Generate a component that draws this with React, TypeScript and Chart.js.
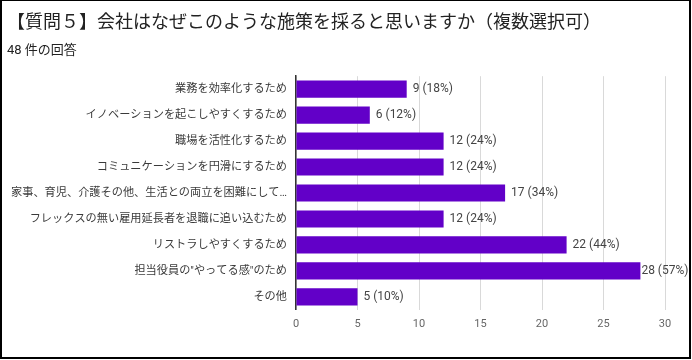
import React, { useEffect, useRef } from "react";
import { Chart, registerables } from "chart.js";

Chart.register(...registerables);

const categories = [
  "業務を効率化するため",
  "イノベーションを起こしやすくするため",
  "職場を活性化するため",
  "コミュニケーションを円滑にするため",
  "家事、育児、介護その他、生活との両立を困難にして…",
  "フレックスの無い雇用延長者を退職に追い込むため",
  "リストラしやすくするため",
  "担当役員の\"やってる感\"のため",
  "その他",
];
const counts = [9, 6, 12, 12, 17, 12, 22, 28, 5];
const percentLabels = ["18%", "12%", "24%", "24%", "34%", "24%", "44%", "57%", "10%"];
const xTicks = [0, 5, 10, 15, 20, 25, 30];
const titleText = "【質問５】会社はなぜこのような施策を採ると思いますか（複数選択可）";
const subtitleText = "48 件の回答";

const FONT = "Roboto, 'Noto Sans CJK JP', sans-serif";

const labelPlugin = {
  id: "barLabels",
  afterDatasetsDraw(chart: any) {
    const ctx = chart.ctx;
    const meta = chart.getDatasetMeta(0);
    ctx.save();
    ctx.font = `12px ${FONT}`;
    ctx.fillStyle = "#444";
    ctx.textBaseline = "middle";
    ctx.textAlign = "left";
    meta.data.forEach((bar: any, i: number) => {
      const text = `${counts[i]} (${percentLabels[i]})`;
      const w = ctx.measureText(text).width;
      let x = bar.x + 6;
      const limit = chart.width - 4 - w;
      if (x > limit) x = Math.max(bar.x + 1, limit);
      ctx.fillText(text, x, bar.y);
    });
    ctx.restore();
  },
};

export default function App() {
  const ref = useRef<HTMLCanvasElement | null>(null);
  useEffect(() => {
    if (!ref.current) return;
    const chart = new Chart(ref.current, {
      type: "bar",
      data: {
        labels: categories,
        datasets: [
          {
            data: counts,
            backgroundColor: "#6200c8",
            borderWidth: 0,
            barPercentage: 0.66,
            categoryPercentage: 1,
          },
        ],
      },
      options: {
        indexAxis: "y",
        animation: false,
        responsive: false,
        maintainAspectRatio: false,
        layout: { padding: { left: 7, right: 27, top: 8, bottom: 21 } },
        plugins: {
          legend: { display: false },
          tooltip: { enabled: false },
          title: {
            display: true,
            text: titleText,
            align: "start",
            color: "#222",
            font: { family: FONT, size: 18, weight: "normal" },
            padding: { top: 5, bottom: 7 },
          },
          subtitle: {
            display: true,
            text: subtitleText,
            align: "start",
            color: "#222",
            font: { family: FONT, size: 13, weight: "normal" },
            padding: { top: 1, bottom: 18 },
          },
        },
        scales: {
          x: {
            min: 0,
            max: 30,
            afterBuildTicks: (s: any) => {
              s.ticks = xTicks.map((v) => ({ value: v }));
            },
            grid: { color: "#d9d9d9", lineWidth: 1, drawTicks: false },
            border: { display: false },
            ticks: {
              padding: 8,
              color: "#666",
              font: { family: FONT, size: 11 },
            },
          },
          y: {
            afterFit: (s: any) => {
              s.width = 289;
            },
            grid: { display: false, drawTicks: false },
            border: { display: true, color: "#333", width: 1.5 },
            ticks: {
              padding: 9,
              color: "#3a3a3a",
              autoSkip: false,
              font: { family: FONT, size: 11.2 },
            },
          },
        },
      },
      plugins: [labelPlugin],
    });
    return () => chart.destroy();
  }, []);

  return (
    <div
      style={{
        position: "fixed",
        left: 0,
        top: 0,
        width: 692,
        height: 360,
        background: "#fff",
      }}
    >
      <canvas ref={ref} width={692} height={360} style={{ position: "absolute", left: 0, top: 0 }} />
      <div
        style={{
          position: "absolute",
          left: 0,
          top: 0,
          width: 691,
          height: 359,
          boxSizing: "border-box",
          borderTop: "1px solid #000",
          borderRight: "2px solid #000",
          borderBottom: "2px solid #000",
          borderLeft: "2px solid #000",
          pointerEvents: "none",
        }}
      />
    </div>
  );
}
